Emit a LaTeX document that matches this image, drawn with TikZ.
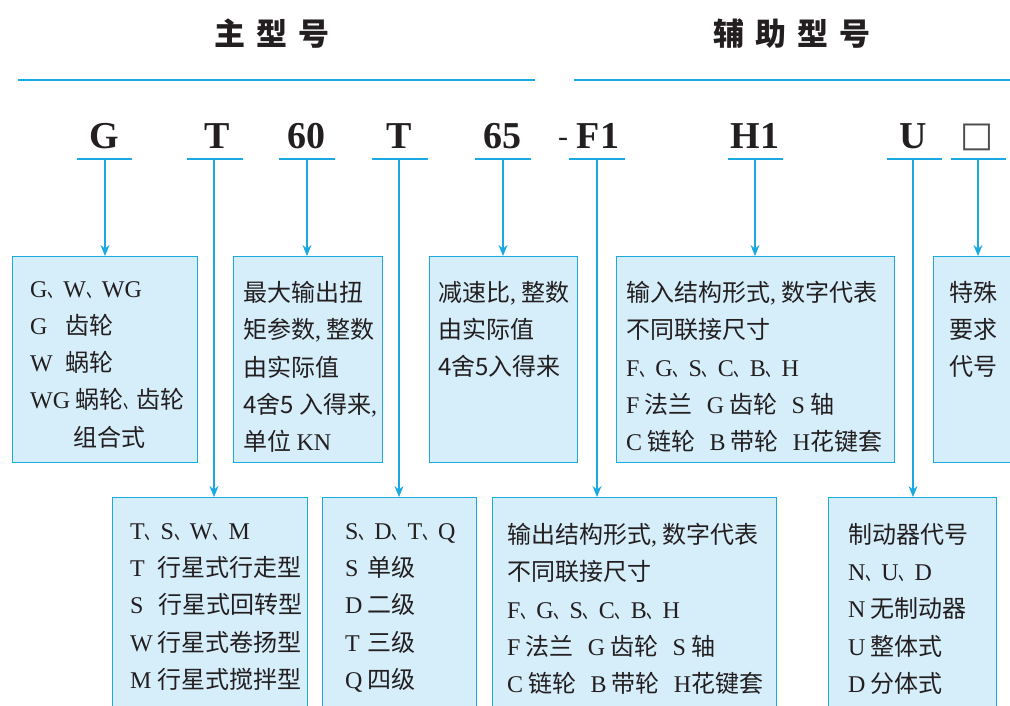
\documentclass[tikz,border=0pt]{standalone}
\usepackage{graphicx}
\usepackage{fontspec}
\setmainfont{Liberation Serif}
\newfontfamily\cn{Noto Sans CJK SC}
\newfontfamily\symf{DejaVu Sans}
\usetikzlibrary{arrows.meta}
\definecolor{lineblue}{HTML}{1BA9E1}
\definecolor{boxfill}{HTML}{D6EDFA}
\definecolor{ink}{HTML}{231F20}
\newcommand\lt[1]{{\rmfamily #1}}
\newcommand\dn{\scalebox{0.62}[1]{、}\hspace{1pt}}
\newcommand\firstline{\rule{0pt}{22pt}}
\tikzset{
  boxnode/.style={draw=lineblue, fill=boxfill, line width=1.4pt, anchor=north west, inner sep=0pt},
  txt/.style={anchor=north west, inner sep=0pt, align=left, text=ink,
     font=\cn\fontsize{24pt}{37.3pt}\selectfont, execute at begin node=\firstline},
  code/.style={anchor=base, inner sep=0pt, text=ink, font=\rmfamily\bfseries\fontsize{38pt}{40pt}\selectfont},
  title/.style={inner sep=0pt, text=ink, font=\cn\bfseries\fontsize{31pt}{34pt}\selectfont},
  conn/.style={draw=lineblue, line width=1.3pt, -{Stealth[length=11pt,width=9pt]}},
  uline/.style={draw=lineblue, line width=2pt},
  hline/.style={draw=lineblue, line width=1.8pt}
}
\begin{document}
\begin{tikzpicture}[x=1pt,y=-1pt]
\useasboundingbox (0,0) rectangle (1010,705);
% titles
\node[title] (tmain) at (272,34) {主\hspace{11pt}型\hspace{11pt}号};
\node[title] (taux) at (792,34) {辅\hspace{11pt}助\hspace{11pt}型\hspace{11pt}号};
\draw[hline] (18,80) -- (535,80);
\draw[hline] (574,80) -- (1010,80);
% code letters
\node[code] (c1) at (104,148) {G};
\node[code] (c2) at (217,148) {T};
\node[code] (c3) at (306,148) {60};
\node[code] (c4) at (399,148) {T};
\node[code] (c5) at (502,148) {65};
\node[code] (c6) at (598,148) {F1};
\node[anchor=base, inner sep=0pt, text=ink, font=\rmfamily\fontsize{30pt}{32pt}\selectfont] (dash) at (563,146) {-};
\node[code] (c7) at (755,148) {H1};
\node[code] (c8) at (913,148) {U};
\node[anchor=base, inner sep=0pt, text=ink!80, font=\symf\fontsize{35pt}{38pt}\selectfont] (c9) at (977,146) {□};
% underlines
\draw[uline] (77,159) -- (132,159);
\draw[uline] (187,159) -- (243,159);
\draw[uline] (279,159) -- (335,159);
\draw[uline] (372,159) -- (428,159);
\draw[uline] (475,159) -- (531,159);
\draw[uline] (569,159) -- (625,159);
\draw[uline] (728,159) -- (783,159);
\draw[uline] (887,159) -- (942,159);
\draw[uline] (951,159) -- (1006,159);
\coordinate (s1) at (105,159);
\coordinate (s2) at (214,159);
\coordinate (s3) at (307,159);
\coordinate (s4) at (399,159);
\coordinate (s5) at (503,159);
\coordinate (s6) at (597,159);
\coordinate (s7) at (755,159);
\coordinate (s8) at (913,159);
\coordinate (s9) at (978,159);
% boxes
\node[boxnode, minimum width=185pt, minimum height=206pt] (b1) at (12,256) {};
\node[boxnode, minimum width=149pt, minimum height=206pt] (b2) at (233,256) {};
\node[boxnode, minimum width=148pt, minimum height=206pt] (b3) at (429,256) {};
\node[boxnode, minimum width=278pt, minimum height=206pt] (b4) at (616,256) {};
\node[boxnode, minimum width=100pt, minimum height=206pt] (b5) at (933,256) {};
\node[boxnode, minimum width=195pt, minimum height=240pt] (b6) at (112,497) {};
\node[boxnode, minimum width=154pt, minimum height=240pt] (b7) at (322,497) {};
\node[boxnode, minimum width=284pt, minimum height=240pt] (b8) at (492,497) {};
\node[boxnode, minimum width=168pt, minimum height=240pt] (b9) at (828,497) {};
% connectors
\draw[conn] (s1) -- (s1 |- b1.north);
\draw[conn] (s2) -- (s2 |- b6.north);
\draw[conn] (s3) -- (s3 |- b2.north);
\draw[conn] (s4) -- (s4 |- b7.north);
\draw[conn] (s5) -- (s5 |- b3.north);
\draw[conn] (s6) -- (s6 |- b8.north);
\draw[conn] (s7) -- (s7 |- b4.north);
\draw[conn] (s8) -- (s8 |- b9.north);
\draw[conn] (s9) -- (s9 |- b5.north);
% texts
\node[txt] (t1) at ([xshift=18pt,yshift=-25pt]b1.north west) {%
\lt{G}\dn\lt{W}\dn\lt{WG}\\
\makebox[35pt][l]{\lt{G}}齿轮\\
\makebox[35pt][l]{\lt{W}}蜗轮\\
\lt{WG} 蜗轮\scalebox{0.55}[1]{、}齿轮\\
\hspace{43pt}组合式};
\node[txt] (t2) at ([xshift=10pt,yshift=-25pt]b2.north west) {%
最大输出扭\\
矩参数\lt{,} 整数\\
由实际值\\
4舍5 入得来\lt{,}\\
单位 \lt{KN}};
\node[txt] (t3) at ([xshift=9pt,yshift=-25pt]b3.north west) {%
减速比\lt{,} 整数\\
由实际值\\
4舍5入得来};
\node[txt] (t4) at ([xshift=10pt,yshift=-25pt]b4.north west) {%
输入结构形式\lt{,} 数字代表\\
不同联接尺寸\\
\lt{F}\dn\lt{G}\dn\lt{S}\dn\lt{C}\dn\lt{B}\dn\lt{H}\\
\lt{F} 法兰\hspace{14pt}\lt{G} 齿轮\hspace{14pt}\lt{S} 轴\\
\lt{C} 链轮\hspace{14pt}\lt{B} 带轮\hspace{14pt}\lt{H}花键套};
\node[txt] (t5) at ([xshift=16pt,yshift=-25pt]b5.north west) {%
特殊\\
要求\\
代号};
\node[txt] (t6) at ([xshift=18pt,yshift=-26pt]b6.north west) {%
\lt{T}\dn\lt{S}\dn\lt{W}\dn\lt{M}\\
\makebox[27pt][l]{\lt{T}}行星式行走型\\
\makebox[28pt][l]{\lt{S}}行星式回转型\\
\makebox[27pt][l]{\lt{W}}行星式卷扬型\\
\makebox[27pt][l]{\lt{M}}行星式搅拌型};
\node[txt] (t7) at ([xshift=23pt,yshift=-26pt]b7.north west) {%
\lt{S}\dn\lt{D}\dn\lt{T}\dn\lt{Q}\\
\makebox[22pt][l]{\lt{S}}单级\\
\makebox[22pt][l]{\lt{D}}二级\\
\makebox[22pt][l]{\lt{T}}三级\\
\makebox[22pt][l]{\lt{Q}}四级};
\node[txt] (t8) at ([xshift=15pt,yshift=-26pt]b8.north west) {%
输出结构形式\lt{,} 数字代表\\
不同联接尺寸\\
\lt{F}\dn\lt{G}\dn\lt{S}\dn\lt{C}\dn\lt{B}\dn\lt{H}\\
\lt{F} 法兰\hspace{14pt}\lt{G} 齿轮\hspace{14pt}\lt{S} 轴\\
\lt{C} 链轮\hspace{14pt}\lt{B} 带轮\hspace{14pt}\lt{H}花键套};
\node[txt] (t9) at ([xshift=20pt,yshift=-26pt]b9.north west) {%
制动器代号\\
\lt{N}\dn\lt{U}\dn\lt{D}\\
\lt{N} 无制动器\\
\lt{U} 整体式\\
\lt{D} 分体式};
\end{tikzpicture}
\end{document}
